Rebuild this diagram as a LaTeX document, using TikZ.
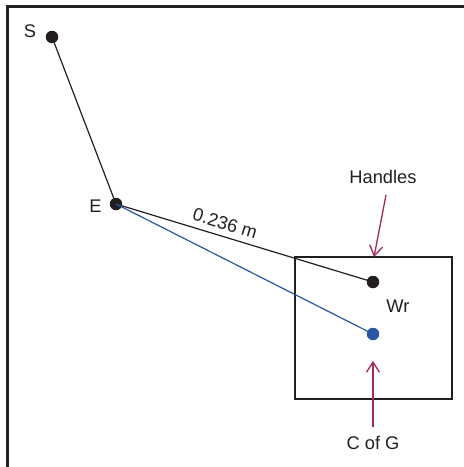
\documentclass[tikz,border=0pt]{standalone}
\usepackage{fontspec}
\setmainfont{Liberation Sans}
\usetikzlibrary{arrows.meta}
\definecolor{dotblack}{HTML}{231F20}
\definecolor{dotblue}{HTML}{2A56A3}
\definecolor{pointer}{HTML}{A3285C}
\tikzset{
  dot/.style={circle,fill=#1,inner sep=0pt,minimum size=12.5pt},
  dot/.default=dotblack,
  lbl/.style={font=\fontsize{18.3}{21}\selectfont,text=dotblack,inner sep=0pt},
  link/.style={line width=1.2pt,draw=#1},
  link/.default=dotblack,
  frame/.style={line width=2.7pt,draw=dotblack},
  pointerarrow/.style={line width=1.3pt,draw=pointer,-{Straight Barb[length=10pt,width=13pt,line width=1.3pt]}}
}
\begin{document}
\begin{tikzpicture}[x=1pt,y=-1pt]
\useasboundingbox (0,0) rectangle (464,467);
\fill[white] (0,0) rectangle (464,467);
% outer frame (top and left edges)
\draw[frame] (7.3,470) -- (7.3,6.5) -- (468,6.5);
% handle box
\node[draw=dotblack,line width=2.8pt,minimum width=157pt,minimum height=142pt,inner sep=0pt] (box) at (373.5,328) {};
% points
\node[dot] (S) at (52,37) {};
\node[dot] (E) at (116,204) {};
\node[dot] (H) at (373,282) {};
\node[dot=dotblue] (G) at (373,334) {};
% labels
\node[lbl] (Slbl) at (30,31) {S};
\node[lbl] (Elbl) at (95.5,206.5) {E};
\node[lbl] (Wr) at (398,306) {Wr};
\node[lbl] (Hlbl) at (383,177) {Handles};
\node[lbl] (Clbl) at (373,443) {C of G};
% segments
\draw[link] (S.center) -- (E.center);
\draw[link] (E.center) -- node[lbl,sloped,above=6pt,pos=0.41] (len) {0.236 m} (H.center);
\draw[link=dotblue] (E.center) -- (G.center);
% pointers
\coordinate (Hfrom) at (386,195);
\coordinate (Hto) at (374,257);
\draw[pointerarrow] (Hfrom) -- (Hto);
\coordinate (Cfrom) at (373,427);
\coordinate (Cto) at (373,361);
\draw[pointerarrow] (Cfrom) -- (Cto);
\end{tikzpicture}
\end{document}
